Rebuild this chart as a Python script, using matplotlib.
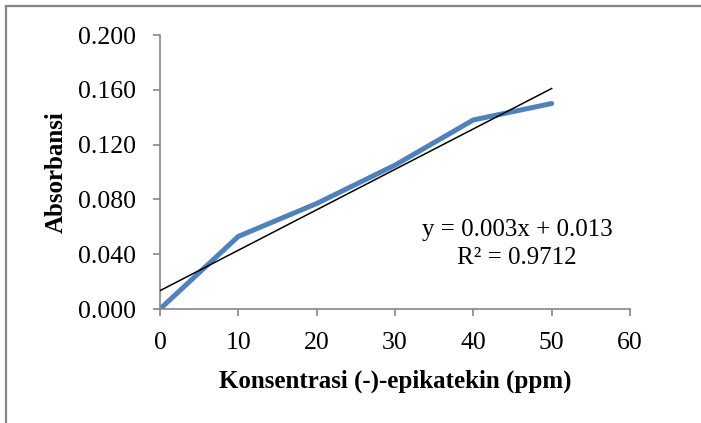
import matplotlib.pyplot as plt
import numpy as np
from matplotlib.lines import Line2D

plt.rcParams['font.family'] = ['Liberation Serif', 'DejaVu Serif']

conc = [0, 10, 20, 30, 40, 50]
absorb = [0.000, 0.053, 0.077, 0.105, 0.138, 0.150]

x_ticks = [0, 10, 20, 30, 40, 50, 60]
y_ticks = [0.000, 0.040, 0.080, 0.120, 0.160, 0.200]

W, H = 701, 423
fig = plt.figure(figsize=(W / 100, H / 100), dpi=100)
ax = fig.add_axes([160 / W, 1 - 309 / H, 470 / W, 274 / H])

ax.plot(conc, absorb, color='#4F81BD', linewidth=3.6,
        solid_capstyle='round', solid_joinstyle='round', zorder=2)

# linear trendline
slope, intercept = np.polyfit(conc, absorb, 1)
xs = np.array([conc[0], conc[-1]])
ax.plot(xs, slope * xs + intercept, color='black', linewidth=1.1, zorder=3)

ax.set_xlim(0, 60)
ax.set_ylim(0, 0.2)
ax.set_xticks(x_ticks)
ax.set_yticks(y_ticks)
ax.set_yticklabels(['%.3f' % v for v in y_ticks])
ax.tick_params(labelsize=18.5, color='#868686', length=5, width=1.2)
ax.tick_params(axis='x', pad=11.5)
ax.tick_params(axis='y', pad=12)
for side in ['top', 'right']:
    ax.spines[side].set_visible(False)
for side in ['left', 'bottom']:
    ax.spines[side].set_color('#868686')
    ax.spines[side].set_linewidth(1.2)

ax.set_xlabel('Konsentrasi (-)-epikatekin (ppm)', fontsize=18,
              fontweight='bold', labelpad=11.5)
ax.set_ylabel('Absorbansi', fontsize=18, fontweight='bold', labelpad=8)

ax.text(45.6, 0.0577, 'y = 0.003x + 0.013', fontsize=18, ha='center',
        va='center')
ax.text(45.6, 0.0372, 'R² = 0.9712', fontsize=18, ha='center',
        va='center')

# chart border
fig.add_artist(Line2D([5.5 / W, 1], [1 - 6 / H, 1 - 6 / H],
                      transform=fig.transFigure, color='#868686', lw=1.6))
fig.add_artist(Line2D([5.5 / W, 5.5 / W], [0, 1 - 6 / H],
                      transform=fig.transFigure, color='#868686', lw=1.6))

plt.savefig('out.png', dpi=100)
